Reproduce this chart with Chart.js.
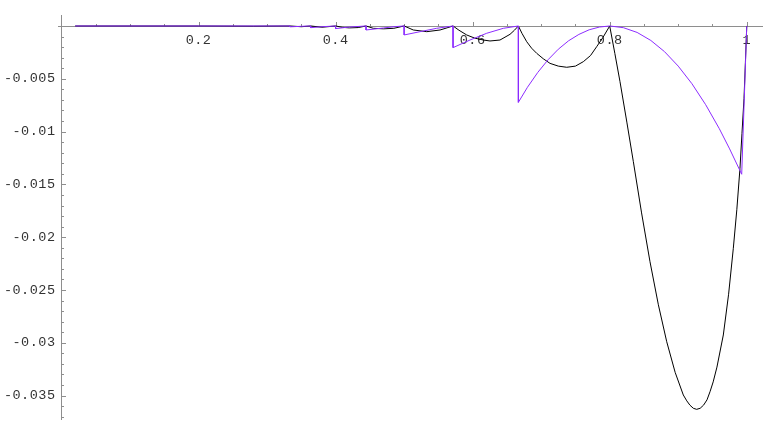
<!DOCTYPE html>
<html>
<head>
<meta charset="utf-8">
<script src="https://cdn.jsdelivr.net/npm/chart.js@4.4.0/dist/chart.umd.min.js"></script>
<style>
  html, body { margin: 0; padding: 0; background: #fff; }
  #wrap { width: 763px; height: 436px; }
</style>
</head>
<body>
<div id="wrap"><canvas id="chart" width="763" height="436"></canvas></div>
<script>
// black curve
const blackX = [0.02, 0.1, 0.2, 0.28, 0.3333, 0.35, 0.3636, 0.38, 0.4, 0.41, 0.42, 0.433, 0.4444,
  0.455, 0.47, 0.485, 0.5, 0.5134, 0.533, 0.5524, 0.5714, 0.58, 0.5913, 0.603, 0.6156, 0.6253, 0.6399, 0.6545, 0.661,
  0.6667, 0.672, 0.6789, 0.686, 0.6935, 0.703, 0.7129, 0.725, 0.7373, 0.75, 0.7615, 0.772, 0.781, 0.79,
  0.8, 0.8075, 0.815, 0.825, 0.8345, 0.8465, 0.8588, 0.871, 0.8832, 0.8955, 0.9074, 0.9125, 0.917, 0.922,
  0.9269, 0.932, 0.937, 0.942, 0.9464, 0.951, 0.9565, 0.9658, 0.9735, 0.9804, 0.9855, 0.9901, 0.993, 0.996, 0.998, 1.0];
const blackY = [0, 0, 0, -0.00002, 0, -0.00007, 0, -0.00012, 0, -0.00013, -0.00018, -0.00015, 0,
  -0.00022, -0.00027, -0.00022, 0, -0.00038, -0.00054, -0.00038, 0, -0.0004, -0.00085, -0.00115, -0.00133, -0.00142, -0.00133, -0.00079, -0.0004,
  0, -0.0007, -0.00149, -0.0021, -0.00259, -0.0031, -0.00354, -0.0038, -0.00391, -0.0038, -0.00338, -0.0028, -0.00196, -0.0011,
  0, -0.0026, -0.00527, -0.0091, -0.01285, -0.0177, -0.02232, -0.0264, -0.0299, -0.0328, -0.03494, -0.0355, -0.0359, -0.0362,
  -0.0363, -0.0362, -0.0359, -0.0354, -0.03463, -0.0337, -0.0323, -0.02926, -0.0254, -0.02105, -0.0174, -0.01348, -0.0102, -0.00685, -0.0035, 0];

// purple curve
const purpleX = [0.02, 0.1, 0.2, 0.3333, 0.3333, 0.35, 0.3636, 0.3636, 0.38, 0.4, 0.4, 0.42, 0.4444,
  0.4444, 0.4697, 0.485, 0.5, 0.5, 0.5232, 0.5475, 0.5714, 0.5714, 0.5961, 0.6205, 0.6448, 0.6667,
  0.6667, 0.68, 0.695, 0.71, 0.725, 0.74, 0.755, 0.77, 0.785, 0.8,
  0.82, 0.84, 0.86, 0.88, 0.9, 0.92, 0.94, 0.96, 0.975, 0.9926, 1.0];
const purpleY = [0, 0, 0, 0, -0.00008, -0.00003, 0, -0.00016, -0.00007, 0, -0.00025, -0.0001, 0,
  -0.00038, -0.00019, -0.00007, 0, -0.00085, -0.00054, -0.00022, 0, -0.00205, -0.00133, -0.00069, -0.00022, 0,
  -0.00723, -0.0058, -0.0044, -0.0032, -0.0022, -0.0014, -0.0008, -0.00036, -0.0001, 0,
  -0.00016, -0.00061, -0.00137, -0.00243, -0.0038, -0.00547, -0.00745, -0.00973, -0.01164, -0.01404, 0];

// axes ticks
const xTicks = [0.2, 0.4, 0.6, 0.8, 1];
const xTickLabels = ["0.2", "0.4", "0.6", "0.8", "1"];
const xMinorTicks = [0.05, 0.1, 0.15, 0.25, 0.3, 0.35, 0.45, 0.5, 0.55, 0.65, 0.7, 0.75, 0.85, 0.9, 0.95];
const yTicks = [-0.005, -0.01, -0.015, -0.02, -0.025, -0.03, -0.035];
const yTickLabels = ["-0.005", "-0.01", "-0.015", "-0.02", "-0.025", "-0.03", "-0.035"];
const yMinorTicks = [-0.001, -0.002, -0.003, -0.004, -0.006, -0.007, -0.008, -0.009, -0.011, -0.012, -0.013,
  -0.014, -0.016, -0.017, -0.018, -0.019, -0.021, -0.022, -0.023, -0.024, -0.026, -0.027, -0.028, -0.029,
  -0.031, -0.032, -0.033, -0.034, -0.036, -0.037];

const toPoints = (xs, ys) => xs.map((v, i) => ({ x: v, y: ys[i] }));

const axesPlugin = {
  id: "mmaAxes",
  beforeDatasetsDraw(chart) {
    const { ctx, scales } = chart;
    const xs = scales.x, ys = scales.y;
    const ax = Math.round(xs.getPixelForValue(0)) + 0.5;
    const ay = Math.round(ys.getPixelForValue(0)) + 0.5;
    ctx.save();
    ctx.strokeStyle = "#8e8e8e";
    ctx.lineWidth = 1;
    ctx.beginPath();
    ctx.moveTo(xs.left, ay);
    ctx.lineTo(xs.right, ay);
    ctx.moveTo(ax, ys.top);
    ctx.lineTo(ax, ys.bottom);
    xTicks.forEach((t) => {
      const px = Math.round(xs.getPixelForValue(t)) + 0.5;
      ctx.moveTo(px, ay);
      ctx.lineTo(px, ay - 4.5);
    });
    xMinorTicks.forEach((t) => {
      const px = Math.round(xs.getPixelForValue(t)) + 0.5;
      ctx.moveTo(px, ay);
      ctx.lineTo(px, ay - 2.5);
    });
    yTicks.forEach((t) => {
      const py = Math.round(ys.getPixelForValue(t)) + 0.5;
      ctx.moveTo(ax, py);
      ctx.lineTo(ax + 4.5, py);
    });
    yMinorTicks.forEach((t) => {
      const py = Math.round(ys.getPixelForValue(t)) + 0.5;
      ctx.moveTo(ax, py);
      ctx.lineTo(ax + 2.5, py);
    });
    ctx.stroke();

    ctx.fillStyle = "#333";
    ctx.font = "13.5px 'Liberation Mono', 'DejaVu Sans Mono', monospace";
    ctx.letterSpacing = "0.5px";
    ctx.textBaseline = "middle";
    ctx.textAlign = "center";
    xTicks.forEach((t, i) => {
      ctx.fillText(xTickLabels[i], xs.getPixelForValue(t), ay + 13.5);
    });
    ctx.textAlign = "right";
    yTicks.forEach((t, i) => {
      ctx.fillText(yTickLabels[i], ax - 6, ys.getPixelForValue(t));
    });
    ctx.restore();
  },
};

new Chart(document.getElementById("chart"), {
  type: "scatter",
  data: {
    datasets: [
      {
        data: toPoints(purpleX, purpleY),
        showLine: true,
        borderColor: "#8c2cff",
        borderWidth: 1,
        pointRadius: 0,
        tension: 0,
      },
      {
        data: toPoints(blackX, blackY),
        showLine: true,
        borderColor: "#000",
        borderWidth: 1,
        pointRadius: 0,
        tension: 0,
      },
    ],
  },
  options: {
    responsive: false,
    devicePixelRatio: 1,
    animation: false,
    layout: { padding: { left: 58, right: 0, top: 15, bottom: 16 } },
    plugins: { legend: { display: false }, tooltip: { enabled: false } },
    scales: {
      x: { type: "linear", min: -0.0051, max: 1.0237, display: false },
      y: { type: "linear", min: -0.03731, max: 0.00104, display: false },
    },
  },
  plugins: [axesPlugin],
});
</script>
</body>
</html>
